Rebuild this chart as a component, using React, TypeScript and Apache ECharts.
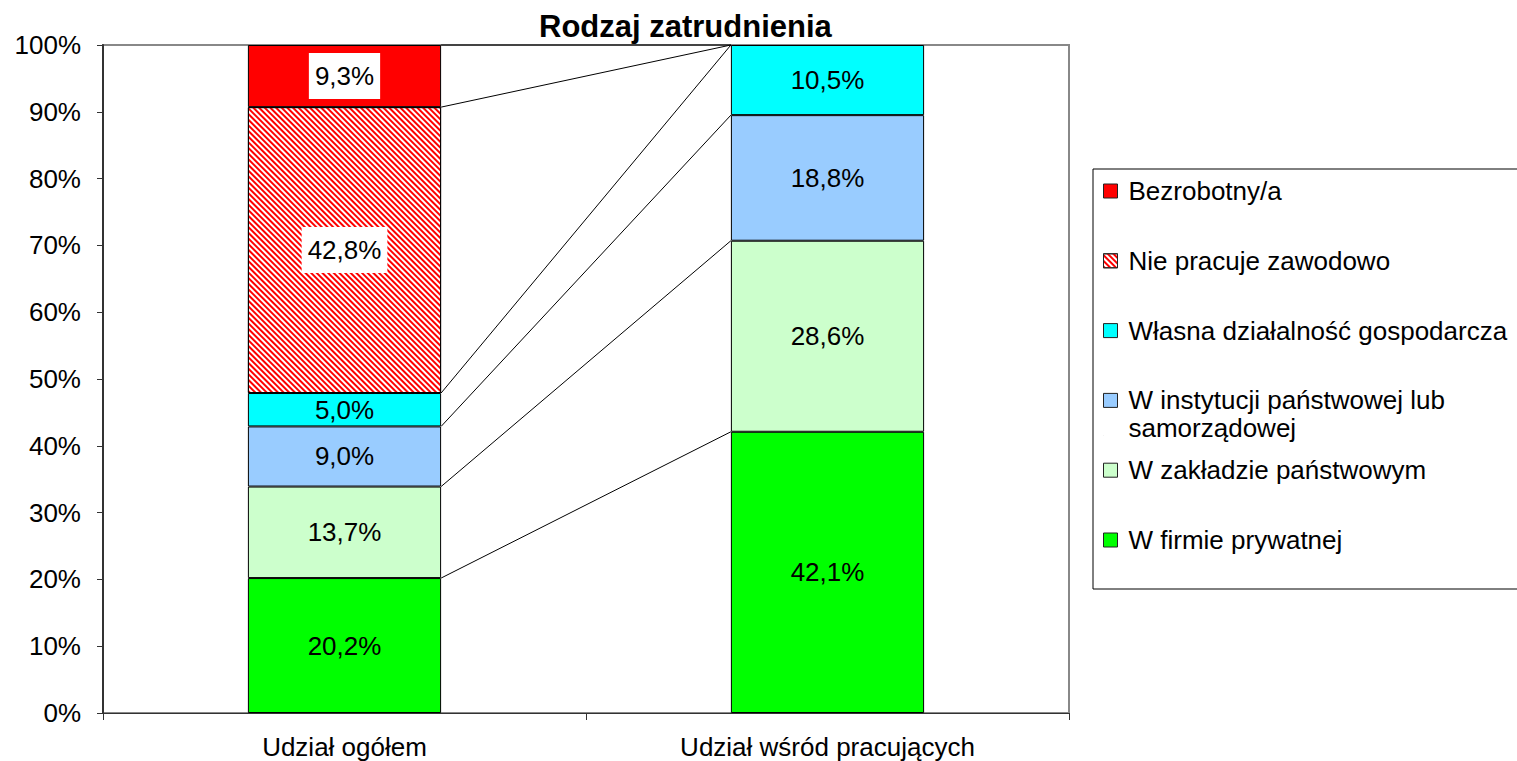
import React, { useEffect, useRef } from "react";
import * as echarts from "echarts";

const categories = ["Udział ogółem", "Udział wśród pracujących"];
const seriesNames = [
  "W firmie prywatnej",
  "W zakładzie państwowym",
  "W instytucji państwowej lub samorządowej",
  "Własna działalność gospodarcza",
  "Nie pracuje zawodowo",
  "Bezrobotny/a",
];
const firmaPrywatna = [20.2, 42.1];
const zakladPanstwowy = [13.7, 28.6];
const instytucja = [9.0, 18.8];
const wlasnaDzialalnosc = [5.0, 10.5];
const niePracuje = [42.8, null];
const bezrobotny = [9.3, null];
const yTicks = [0, 10, 20, 30, 40, 50, 60, 70, 80, 90, 100];

const FONT = 'Arial, "Liberation Sans", sans-serif';

export default function App() {
  const ref = useRef<HTMLDivElement>(null);
  useEffect(() => {
    if (!ref.current) return;
    const chart = echarts.init(ref.current, null, { renderer: "svg" });
    const allData = [firmaPrywatna, zakladPanstwowy, instytucja, wlasnaDzialalnosc, niePracuje, bezrobotny];
    const colors = ["#00FF00", "#CCFFCC", "#99CCFF", "#00FFFF", "#FFFFFF", "#FF0000"];

    const cum = [0, 0];
    const connectors: number[][] = [];
    allData.forEach((arr) => {
      cum[0] += arr[0] || 0;
      cum[1] += arr[1] || 0;
      connectors.push([0, Math.round(cum[0] * 10) / 10, Math.round(cum[1] * 10) / 10]);
    });

    const fmt = (p: any) => Number(p.value).toFixed(1).replace(".", ",") + "%";

    const barSeries = allData.map((arr, i) => {
      const boxed = i >= 4;
      const s: any = {
        name: seriesNames[i],
        type: "bar",
        stack: "total",
        barWidth: "40%",
        data: arr,
        itemStyle: { color: colors[i], borderColor: "#000", borderWidth: 1 },
        label: {
          show: true,
          position: "inside",
          formatter: fmt,
          fontFamily: FONT,
          fontSize: 26,
          color: "#000",
          backgroundColor: boxed ? "#fff" : "transparent",
          padding: boxed ? [10, 6] : 0,
        },
      };
      if (i === 4) {
        s.itemStyle.decal = {
          symbol: "rect",
          symbolSize: 1,
          color: "#FF0000",
          backgroundColor: "#FFFFFF",
          dashArrayX: [1, 0],
          dashArrayY: [1.5, 1.5],
          rotation: Math.PI / 4,
        };
      }
      return s;
    });

    const legendOrder = [5, 4, 3, 2, 1, 0];
    const twoLineIcon = "path://M0,0h14v14h-14z M0,41.98h0.02v0.02h-0.02z";
    const legends = legendOrder.map((si, k) => {
      const iconTop = 184 + k * 69.8;
      const twoLine = si === 2;
      return {
        show: true,
        orient: "vertical",
        left: 1103,
        top: twoLine ? iconTop - 7 : iconTop - 6,
        padding: 0,
        itemWidth: 14,
        itemHeight: twoLine ? 42 : 14,
        icon: twoLine ? twoLineIcon : "rect",
        selectedMode: false,
        itemStyle: { borderColor: "#222", borderWidth: 1 },
        data: [seriesNames[si]],
        formatter: (n: string) =>
          n === seriesNames[2] ? "W instytucji państwowej lub\nsamorządowej" : n,
        textStyle: {
          fontFamily: FONT,
          fontSize: 26,
          color: "#000",
          lineHeight: twoLine ? 28 : 26,
          padding: [0, 0, 0, 6],
        },
      };
    });

    chart.setOption({
      animation: false,
      backgroundColor: "#fff",
      title: {
        text: "Rodzaj zatrudnienia",
        left: 534,
        top: 6,
        textStyle: { fontFamily: FONT, fontSize: 31, fontWeight: "bold", color: "#000" },
      },
      legend: legends,
      graphic: [
        {
          type: "rect",
          shape: { x: 1093, y: 169, width: 500, height: 420 },
          style: { fill: "#fff", stroke: "#000", lineWidth: 1 },
          z: 0,
        },
      ],
      grid: {
        left: 103,
        top: 45,
        width: 966,
        height: 668,
        show: true,
        borderColor: "#888",
        borderWidth: 2,
        backgroundColor: "transparent",
      },
      xAxis: {
        type: "category",
        data: categories,
        boundaryGap: true,
        axisLine: { show: true, lineStyle: { color: "#333", width: 1 } },
        axisTick: { show: true, length: 7, lineStyle: { color: "#333" } },
        axisLabel: { fontFamily: FONT, fontSize: 26, color: "#000", margin: 21 },
      },
      yAxis: {
        type: "value",
        min: yTicks[0],
        max: yTicks[yTicks.length - 1],
        interval: 10,
        axisLine: { show: true, lineStyle: { color: "#333", width: 2 } },
        axisTick: { show: true, length: 6, lineStyle: { color: "#333" } },
        splitLine: { show: false },
        axisLabel: {
          fontFamily: FONT,
          fontSize: 26,
          color: "#000",
          margin: 22,
          formatter: "{value}%",
        },
      },
      series: [
        ...barSeries,
        {
          type: "custom",
          name: "connectors",
          silent: true,
          z: 1,
          data: connectors,
          encode: { x: 0, y: [1, 2] },
          renderItem: (params: any, api: any) => {
            const half = api.size([1, 0])[0] * 0.2;
            const p0 = api.coord([0, api.value(1)]);
            const p1 = api.coord([1, api.value(2)]);
            return {
              type: "line",
              shape: { x1: p0[0] + half, y1: p0[1], x2: p1[0] - half, y2: p1[1] },
              style: { stroke: "#000", lineWidth: 1 },
            };
          },
        },
      ],
    });
    return () => chart.dispose();
  }, []);
  return (
    <div
      ref={ref}
      style={{ position: "fixed", left: 0, top: 0, width: 1517, height: 761 }}
    />
  );
}
